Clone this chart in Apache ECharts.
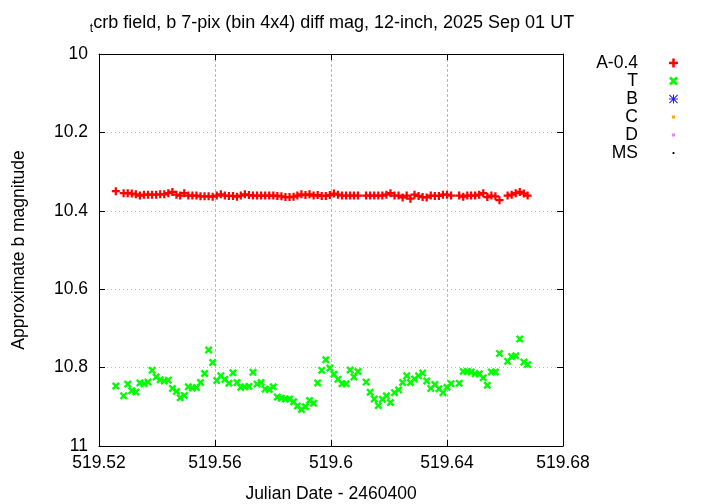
<!DOCTYPE html>
<html>
<head>
<meta charset="utf-8">
<script src="https://cdn.jsdelivr.net/npm/echarts@6/dist/echarts.min.js"></script>
<style>html,body{margin:0;padding:0;background:#fff}#c{width:720px;height:504px}</style>
</head>
<body>
<div id="c"></div>
<script>
const jd = [
519.5258, 519.5285, 519.5299, 519.5313, 519.5327, 519.5341, 519.5355, 519.5369, 519.5383, 519.5397,
519.5411, 519.5425, 519.5439, 519.5453, 519.5467, 519.5480, 519.5494, 519.5508, 519.5522, 519.5536,
519.5550, 519.5564, 519.5578, 519.5592, 519.5606, 519.5620, 519.5634, 519.5648, 519.5662, 519.5676,
519.5689, 519.5703, 519.5717, 519.5731, 519.5745, 519.5759, 519.5773, 519.5787, 519.5801, 519.5815,
519.5829, 519.5843, 519.5857, 519.5871, 519.5884, 519.5898, 519.5912, 519.5926, 519.5940, 519.5954,
519.5968, 519.5982, 519.5996, 519.6010, 519.6024, 519.6038, 519.6052, 519.6066, 519.6079, 519.6093,
519.6121, 519.6135, 519.6149, 519.6163, 519.6177, 519.6191, 519.6205, 519.6219, 519.6233, 519.6247,
519.6261, 519.6274, 519.6288, 519.6302, 519.6316, 519.6330, 519.6344, 519.6358, 519.6372, 519.6386,
519.6400, 519.6414,
519.6442, 519.6456, 519.6470, 519.6483, 519.6497, 519.6511, 519.6525, 519.6539, 519.6553, 519.6567, 519.6581,
519.6609, 519.6623, 519.6637, 519.6651, 519.6665, 519.6678
];
const magA = [
10.350, 10.355, 10.355, 10.356, 10.358, 10.361, 10.359, 10.359, 10.359, 10.359,
10.358, 10.358, 10.355, 10.352, 10.359, 10.361, 10.355, 10.361, 10.361, 10.361,
10.363, 10.363, 10.363, 10.364, 10.361, 10.358, 10.361, 10.362, 10.362, 10.364,
10.361, 10.358, 10.360, 10.361, 10.361, 10.361, 10.361, 10.361, 10.361, 10.362,
10.363, 10.365, 10.365, 10.364, 10.361, 10.358, 10.360, 10.358, 10.361, 10.360,
10.362, 10.362, 10.360, 10.356, 10.359, 10.361, 10.361, 10.361, 10.361, 10.361,
10.361, 10.361, 10.361, 10.361, 10.361, 10.359, 10.355, 10.361, 10.361, 10.366,
10.361, 10.369, 10.359, 10.362, 10.365, 10.366, 10.361, 10.362, 10.362, 10.359,
10.359, 10.361, 10.361, 10.364, 10.361, 10.361, 10.361, 10.359, 10.355, 10.365,
10.361, 10.363, 10.373, 10.361, 10.359, 10.355, 10.352, 10.356, 10.361
];
const magT = [
10.847, 10.872, 10.842, 10.859, 10.862, 10.839, 10.841, 10.837, 10.807, 10.824,
10.831, 10.834, 10.832, 10.853, 10.861, 10.877, 10.871, 10.849, 10.852, 10.851,
10.838, 10.815, 10.755, 10.787, 10.833, 10.821, 10.830, 10.840, 10.813, 10.838,
10.850, 10.849, 10.848, 10.812, 10.842, 10.838, 10.855, 10.856, 10.849, 10.875,
10.878, 10.880, 10.880, 10.887, 10.898, 10.907, 10.900, 10.884, 10.891, 10.839,
10.807, 10.780, 10.801, 10.817, 10.830, 10.841, 10.841, 10.806, 10.824, 10.810,
10.837, 10.863, 10.880, 10.897, 10.881, 10.872, 10.889, 10.864, 10.857, 10.838,
10.821, 10.838, 10.829, 10.821, 10.814, 10.834, 10.853, 10.843, 10.854, 10.864,
10.850, 10.841, 10.840, 10.810, 10.810, 10.811, 10.816, 10.816, 10.826, 10.845,
10.811, 10.811, 10.764, 10.784, 10.772, 10.770, 10.727, 10.786, 10.792
];
const seriesNames = ['A-0.4', 'T', 'B', 'C', 'D', 'MS'];
const seriesColors = ['#ff0000', '#00ff00', '#2222ff', '#ffa500', '#f080f0', '#000000'];
const xTicks = { min: 519.52, max: 519.68, step: 0.04 };
const yTicks = { min: 10, max: 11, step: 0.2 };

const FONT = 'Liberation Sans';
const FS = 17.5;
const plusPath = 'path://M3.6,0H6.4V3.6H10V6.4H6.4V10H3.6V6.4H0V3.6H3.6Z';
const crossPath = 'path://M0,2.1L2.1,0L5,2.9L7.9,0L10,2.1L7.1,5L10,7.9L7.9,10L5,7.1L2.1,10L0,7.9L2.9,5Z';
const starPath = 'path://M4.4,0H5.6V10H4.4Z M0,4.4H10V5.6H0Z M0.8,0L10,9.2L9.2,10L0,0.8Z M9.2,0L10,0.8L0.8,10L0,9.2Z';
const sqPath = 'path://M0,0L0,0Z M10,10L10,10Z M3.2,3.2H6.8V6.8H3.2Z';
const dotPath = 'path://M0,0L0,0Z M10,10L10,10Z M4,4H6V6H4Z';
const icons = [plusPath, crossPath, starPath, sqPath, sqPath, dotPath];

const dataA = jd.map((x, i) => [x, magA[i]]);
const dataT = jd.map((x, i) => [x, magT[i]]);
const allData = [dataA, dataT, [], [], [], []];
const symbols = [plusPath, crossPath, starPath, 'rect', 'rect', 'circle'];
const sizes = [8, 8, 8, 4, 4, 3];

const chart = echarts.init(document.getElementById('c'), null, { renderer: 'canvas' });
const axisCommon = {
  type: 'value',
  axisLine: { show: true, lineStyle: { color: '#000', width: 1 } },
  axisTick: { show: true, inside: true, length: 6, lineStyle: { color: '#000', width: 1 } },
  axisLabel: { show: false },
  splitLine: { show: false }
};
chart.setOption({
  animation: false,
  backgroundColor: '#fff',
  textStyle: { fontFamily: FONT },
  title: {
    text: '{s|t}crb field, b 7-pix (bin 4x4) diff mag, 12-inch, 2025 Sep 01 UT',
    left: 327, top: 6, textAlign: 'center',
    textStyle: {
      fontFamily: FONT, fontSize: 18, fontWeight: 'normal', color: '#000',
      rich: { s: { fontFamily: FONT, fontSize: 12, color: '#000', padding: [12, 0, 0, 0] } }
    }
  },
  grid: { left: 99, right: 157, top: 54, bottom: 58, show: false, containLabel: false, outerBoundsMode: 'none' },
  legend: {
    orient: 'vertical', right: 42, top: 54, align: 'right', padding: 0,
    itemWidth: 9, itemHeight: 9, itemGap: 0, selectedMode: false,
    textStyle: { fontFamily: FONT, fontSize: FS, color: '#000', lineHeight: 16, padding: [0, 26, 0, 0] },
    data: seriesNames.map((n, i) => ({ name: n, icon: icons[i] }))
  },
  xAxis: [
    Object.assign({}, axisCommon, {
      position: 'bottom', min: xTicks.min, max: xTicks.max, interval: xTicks.step,
      name: 'Julian Date - 2460400', nameLocation: 'middle', nameGap: 39,
      nameTextStyle: { fontFamily: FONT, fontSize: FS, color: '#000' },
      axisLabel: { show: true, margin: 8, fontFamily: FONT, fontSize: FS, color: '#000' },
      splitLine: { show: true, lineStyle: { color: '#b8b8b8', width: 1, type: [3, 2] } }
    }),
    Object.assign({}, axisCommon, {
      position: 'top', min: xTicks.min, max: xTicks.max, interval: xTicks.step
    })
  ],
  yAxis: [
    Object.assign({}, axisCommon, {
      position: 'left', inverse: true, min: yTicks.min, max: yTicks.max, interval: yTicks.step,
      name: 'Approximate b magnitude', nameLocation: 'middle', nameGap: 71, nameRotate: 90,
      nameTextStyle: { fontFamily: FONT, fontSize: FS, color: '#000' },
      axisLabel: { show: true, margin: 11, fontFamily: FONT, fontSize: FS, color: '#000' },
      splitLine: { show: true, lineStyle: { color: '#b8b8b8', width: 1, type: [1, 3] } }
    }),
    Object.assign({}, axisCommon, {
      position: 'right', inverse: true, min: yTicks.min, max: yTicks.max, interval: yTicks.step
    })
  ],
  series: seriesNames.map((n, i) => ({
    name: n, type: 'scatter', xAxisIndex: 0, yAxisIndex: 0,
    symbol: symbols[i], symbolSize: sizes[i],
    itemStyle: { color: seriesColors[i], opacity: 1 },
    emphasis: { disabled: true },
    data: allData[i]
  }))
});
</script>
</body>
</html>
